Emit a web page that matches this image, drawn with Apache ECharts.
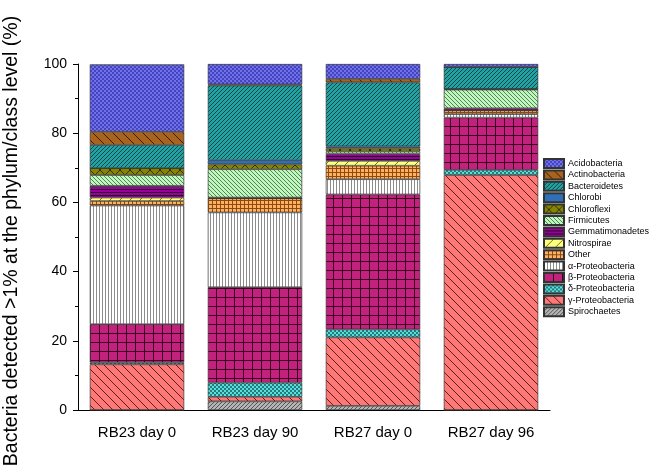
<!DOCTYPE html>
<html>
<head>
<meta charset="utf-8">
<script src="https://cdn.jsdelivr.net/npm/echarts@6/dist/echarts.min.js"></script>
<style>
  html, body { margin: 0; padding: 0; background: #fff; }
  #chart { width: 649px; height: 469px; }
</style>
</head>
<body>
<div id="chart"></div>
<script>
// samples along the x axis
var categories = ['RB23 day 0', 'RB23 day 90', 'RB27 day 0', 'RB27 day 96'];

// relative abundance (%) per taxon, one value per sample
var acidobacteria    = [19.5, 5.9, 4.3, 0.9];
var actinobacteria   = [3.8, 0.3, 1.0, 0];
var bacteroidetes    = [6.7, 21.6, 18.5, 6.3];
var chlorobi         = [0, 1.2, 0.6, 0];
var chloroflexi      = [2.0, 1.4, 0.9, 0.2];
var firmicutes       = [3.1, 8.2, 0.7, 5.4];
var gemmatimonadetes = [3.4, 0.2, 2.0, 0.6];
var nitrospirae      = [1.0, 0, 1.4, 0];
var other            = [1.3, 4.1, 3.9, 1.1];
var alphaProteo      = [34.3, 21.6, 4.4, 1.0];
var betaProteo       = [11.1, 27.6, 39.0, 15.1];
var deltaProteo      = [0.5, 4.1, 2.3, 1.5];
var gammaProteo      = [13.2, 1.3, 19.8, 67.9];
var spirochaetes     = [0, 2.5, 1.2, 0];

var yTicks = [0, 20, 40, 60, 80, 100];

// small canvas tiles to mimic the hatch fills
function pattern(bg, kind, fg, s) {
  if (kind === 'solid') return bg;
  var c = document.createElement('canvas');
  c.width = s; c.height = s;
  var g = c.getContext('2d');
  g.fillStyle = bg;
  g.fillRect(0, 0, s, s);
  g.strokeStyle = fg;
  g.fillStyle = fg;
  g.lineWidth = 1;
  var n;
  if (kind === 'check') {
    var h = s / 2;
    g.fillRect(0, 0, h, h);
    g.fillRect(h, h, h, h);
  } else if (kind === 'back' || kind === 'x') {
    g.beginPath();
    for (n = -1; n <= 1; n++) { g.moveTo(0, n * s); g.lineTo(s, s + n * s); }
    g.stroke();
  }
  if (kind === 'fwd' || kind === 'x') {
    g.beginPath();
    for (n = -1; n <= 1; n++) { g.moveTo(0, s + n * s); g.lineTo(s, n * s); }
    g.stroke();
  }
  if (kind === 'h' || kind === 'grid') {
    g.fillRect(0, 0, s, 1);
  }
  if (kind === 'v' || kind === 'grid') {
    g.fillRect(0, 0, 1, s);
  }
  return { image: c, repeat: 'repeat' };
}

var taxa = [
  { name: 'Acidobacteria',    data: acidobacteria,    fill: pattern('#7070ee', 'check', '#4444bb', 4) },
  { name: 'Actinobacteria',   data: actinobacteria,   fill: pattern('#a8641e', 'back', '#3a2000', 10) },
  { name: 'Bacteroidetes',    data: bacteroidetes,    fill: pattern('#22a2a2', 'fwd', '#0a4a4a', 4) },
  { name: 'Chlorobi',         data: chlorobi,         fill: pattern('#3070b8', 'solid') },
  { name: 'Chloroflexi',      data: chloroflexi,      fill: pattern('#858500', 'x', '#333300', 10) },
  { name: 'Firmicutes',       data: firmicutes,       fill: pattern('#c2f5c2', 'back', '#4a8a4a', 4) },
  { name: 'Gemmatimonadetes', data: gemmatimonadetes, fill: pattern('#990099', 'h', '#330033', 3) },
  { name: 'Nitrospirae',      data: nitrospirae,      fill: pattern('#ffff80', 'fwd', '#777700', 10) },
  { name: 'Other',            data: other,            fill: pattern('#ffb060', 'grid', '#8a4a10', 4) },
  { name: 'α-Proteobacteria', data: alphaProteo,      fill: pattern('#ffffff', 'v', '#8c8c8c', 3) },
  { name: 'β-Proteobacteria', data: betaProteo,       fill: pattern('#c2227e', 'grid', '#3a0020', 9) },
  { name: 'δ-Proteobacteria', data: deltaProteo,      fill: pattern('#55e0e0', 'check', '#2a7a7a', 4) },
  { name: 'γ-Proteobacteria', data: gammaProteo,      fill: pattern('#ff7878', 'back', '#5a2020', 9) },
  { name: 'Spirochaetes',     data: spirochaetes,     fill: pattern('#b4b4b4', 'fwd', '#555555', 4) }
];

// stack from the bottom up: last taxon in the legend sits at the base
var series = taxa.slice().reverse().map(function (t) {
  return {
    name: t.name,
    type: 'bar',
    stack: 'total',
    barWidth: '80%',
    data: t.data,
    itemStyle: { color: t.fill, borderColor: '#333', borderWidth: 0.7 }
  };
});

var chart = echarts.init(document.getElementById('chart'), null, { renderer: 'canvas' });
var font = '"Liberation Sans", Arial, sans-serif';

var option = {
  animation: false,
  textStyle: { fontFamily: font },
  grid: { left: 78, right: 99, top: 64, bottom: 59, outerBoundsMode: 'none', containLabel: false },
  legend: {
    orient: 'vertical',
    left: 543,
    top: 158,
    data: taxa.map(function (t) { return t.name; }),
    icon: 'rect',
    itemWidth: 20,
    itemHeight: 9,
    itemGap: 0.4,
    padding: 0,
    textStyle: { fontSize: 9, color: '#000', fontFamily: font, padding: [0, 0, 0, -1] }
  },
  xAxis: [
    {
      type: 'category',
      data: categories,
      axisLine: { lineStyle: { color: '#000', width: 1 } },
      axisTick: { alignWithLabel: true, length: 6, lineStyle: { color: '#000' } },
      axisLabel: { color: '#000', fontSize: 15, margin: 15, fontFamily: font }
    },
    {
      type: 'category',
      data: categories,
      position: 'bottom',
      axisLine: { show: false },
      axisTick: { length: 3, lineStyle: { color: '#000' } },
      axisLabel: { show: false }
    }
  ],
  yAxis: {
    type: 'value',
    min: yTicks[0],
    max: yTicks[yTicks.length - 1],
    interval: 20,
    name: 'Bacteria detected >1% at the phylum/class level (%)',
    nameLocation: 'middle',
    nameGap: 56,
    nameTextStyle: { fontSize: 19.5, color: '#000', fontFamily: font, padding: [0, 8, 0, 0] },
    axisLine: { show: true, lineStyle: { color: '#000', width: 1 } },
    axisTick: { show: true, length: 5, lineStyle: { color: '#000' } },
    minorTick: { show: true, splitNumber: 2, length: 3, lineStyle: { color: '#000' } },
    splitLine: { show: false },
    axisLabel: { color: '#000', fontSize: 14, margin: 11, fontFamily: font }
  },
  series: series
};

chart.setOption(option);
window.addEventListener('resize', function () {
  chart.resize();
});
</script>
</body>
</html>
